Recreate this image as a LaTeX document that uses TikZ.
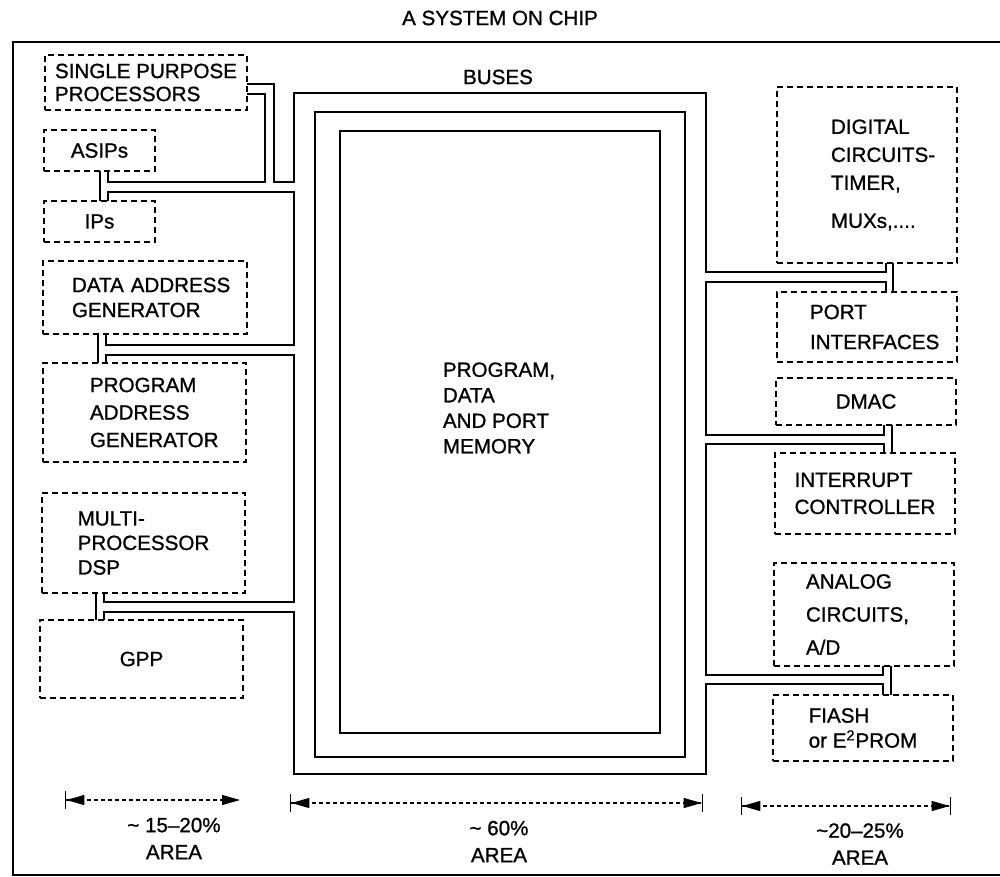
\documentclass[tikz,border=0pt]{standalone}
\usepackage{fontspec}
\setmainfont{Liberation Sans}[FakeBold=1]
\usetikzlibrary{arrows.meta,positioning}

\begin{document}
\begin{tikzpicture}[x=0.5pt, y=-0.5pt,
  blk/.style={draw, dash pattern=on 3pt off 2pt, line width=0.6pt, inner sep=0pt, outer sep=0pt, align=left, font=\fontsize{10.3}{12.5}\selectfont},
  lsp/.style={font=\fontsize{10.3}{#1}\selectfont},
  tw/.style={text width=#1},
  lbl/.style={align=center, inner sep=0pt, font=\fontsize{10.3}{13.5}\selectfont},
  bus/.style={line width=0.7pt},
  dim/.style={line width=0.6pt, dash pattern=on 2pt off 1.5pt}]

  \useasboundingbox (0,0) rectangle (1000,877);
  \draw[line width=0.7pt] (1000,42) -- (13,42) -- (13,875) -- (1000,875);

  \node[lbl] (title) at (500,18) {A SYSTEM ON CHIP};
  \node[lbl] (buses) at (498,77) {BUSES};

  \node[blk, lsp=11.5pt, minimum width=101pt, minimum height=27.5pt] (spp) at (146,82.5) {SINGLE PURPOSE\\PROCESSORS};
  \node[blk, minimum width=55.5pt, minimum height=20.5pt] (asip) at (99.5,150.5) {ASIPs};
  \node[blk, minimum width=55.5pt, minimum height=20.5pt] (ips) at (99.5,221.5) {IPs};
  \node[blk, tw=73pt, minimum width=102pt, minimum height=36.5pt] (dag) at (145,297.5) {\mbox{DATA ADDRESS}\\\mbox{GENERATOR}};
  \node[blk, tw=54.5pt, lsp=13.75pt, minimum width=101.5pt, minimum height=49.5pt] (pag) at (144.5,412.5) {PROGRAM\\ADDRESS\\\mbox{GENERATOR}};
  \node[blk, lsp=12.25pt, minimum width=101.5pt, minimum height=50pt] (mpd) at (143.5,543) {MULTI-\\PROCESSOR\\DSP};
  \node[blk, minimum width=101.5pt, minimum height=39pt] (gpp) at (141.5,659) {GPP};

  \node[blk, tw=36pt, lsp=14pt, minimum width=90pt, minimum height=88pt] (dig) at (867,175) {\mbox{DIGITAL}\\\mbox{CIRCUITS-}\\\mbox{TIMER,}\\[5pt]\mbox{MUXs,....}};
  \node[blk, tw=57pt, lsp=15pt, minimum width=90pt, minimum height=35pt] (port) at (867,327) {PORT\\\mbox{INTERFACES}};
  \node[blk, minimum width=90pt, minimum height=23.5pt] (dmac) at (866,401.5) {DMAC};
  \node[blk, lsp=13.5pt, minimum width=90pt, minimum height=40.5pt] (intr) at (865,493.5) {INTERRUPT\\CONTROLLER};
  \node[blk, tw=58pt, lsp=16.5pt, minimum width=90pt, minimum height=51.5pt] (ana) at (864,614.5) {ANALOG\\CIRCUITS,\\A/D};
  \node[blk, minimum width=90pt, minimum height=33pt] (flash) at (863,728) {FIASH\\or E\textsuperscript{2}PROM};

  \draw[bus] (315,112) rectangle (685,757);
  \node[draw, bus, inner sep=0pt, outer sep=0pt, minimum width=160pt, minimum height=301pt] (mem) at (500,432) {};
  \node[lbl, align=left, lsp=12.75pt] (memtxt) at (499,408) {PROGRAM,\\DATA\\AND PORT\\MEMORY};

  \draw[bus] (spp.east |- 0,84) -- (274,84) -- (274,182) -- (294,182) -- (294,93) -- (706,93) -- (706,272) -- (886,272) -- (dig.south -| 886,0);
  \draw[bus] (spp.east |- 0,94) -- (265,94) -- (265,182) -- (108,182) -- (asip.south -| 108,0);
  \draw[bus] (asip.south -| 100,0) -- (ips.north -| 100,0);
  \draw[bus] (ips.north -| 108,0) -- (108,192) -- (294,192) -- (294,345) -- (106,345) -- (dag.south -| 106,0);
  \draw[bus] (dag.south -| 98,0) -- (pag.north -| 98,0);
  \draw[bus] (pag.north -| 106,0) -- (106,355) -- (294,355) -- (294,602) -- (104,602) -- (mpd.south -| 104,0);
  \draw[bus] (mpd.south -| 96,0) -- (gpp.north -| 96,0);
  \draw[bus] (gpp.north -| 104,0) -- (104,612) -- (294,612) -- (294,774) -- (706,774) -- (706,684) -- (883,684) -- (flash.north -| 883,0);
  \draw[bus] (dig.south -| 893,0) -- (port.north -| 893,0);
  \draw[bus] (port.north -| 886,0) -- (886,282) -- (706,282) -- (706,435) -- (884,435) -- (dmac.south -| 884,0);
  \draw[bus] (dmac.south -| 892,0) -- (intr.north -| 892,0);
  \draw[bus] (intr.north -| 884,0) -- (884,444) -- (706,444) -- (706,675) -- (883,675) -- (ana.south -| 883,0);
  \draw[bus] (ana.south -| 891,0) -- (flash.north -| 891,0);

  \coordinate (al) at (65,800);
  \coordinate (ar) at (240,800);
  \coordinate (bl) at (290,803);
  \coordinate (br) at (703,803);
  \coordinate (cl) at (741,806);
  \coordinate (cr) at (951,806);
  \draw[dim, {Bar[width=9pt,line width=0.7pt]Triangle[length=9pt,width=5pt]}-{Triangle[length=9pt,width=5pt]}] (al) -- (ar);
  \draw[dim, {Bar[width=9pt,line width=0.7pt]Triangle[length=9pt,width=5pt]}-{Triangle[length=9pt,width=5pt]Bar[width=9pt,line width=0.7pt]}] (bl) -- (br);
  \draw[dim, {Bar[width=9pt,line width=0.7pt]Triangle[length=9pt,width=5pt]}-{Triangle[length=9pt,width=5pt]Bar[width=9pt,line width=0.7pt]}] (cl) -- (cr);

  \node[lbl] (pa) at (174,838.5) {\textasciitilde{} 15--20\%\\AREA};
  \node[lbl] (pb) at (499,841.5) {\textasciitilde{} 60\%\\AREA};
  \node[lbl] (pc) at (860,844) {\textasciitilde20--25\%\\AREA};
\end{tikzpicture}
\end{document}
